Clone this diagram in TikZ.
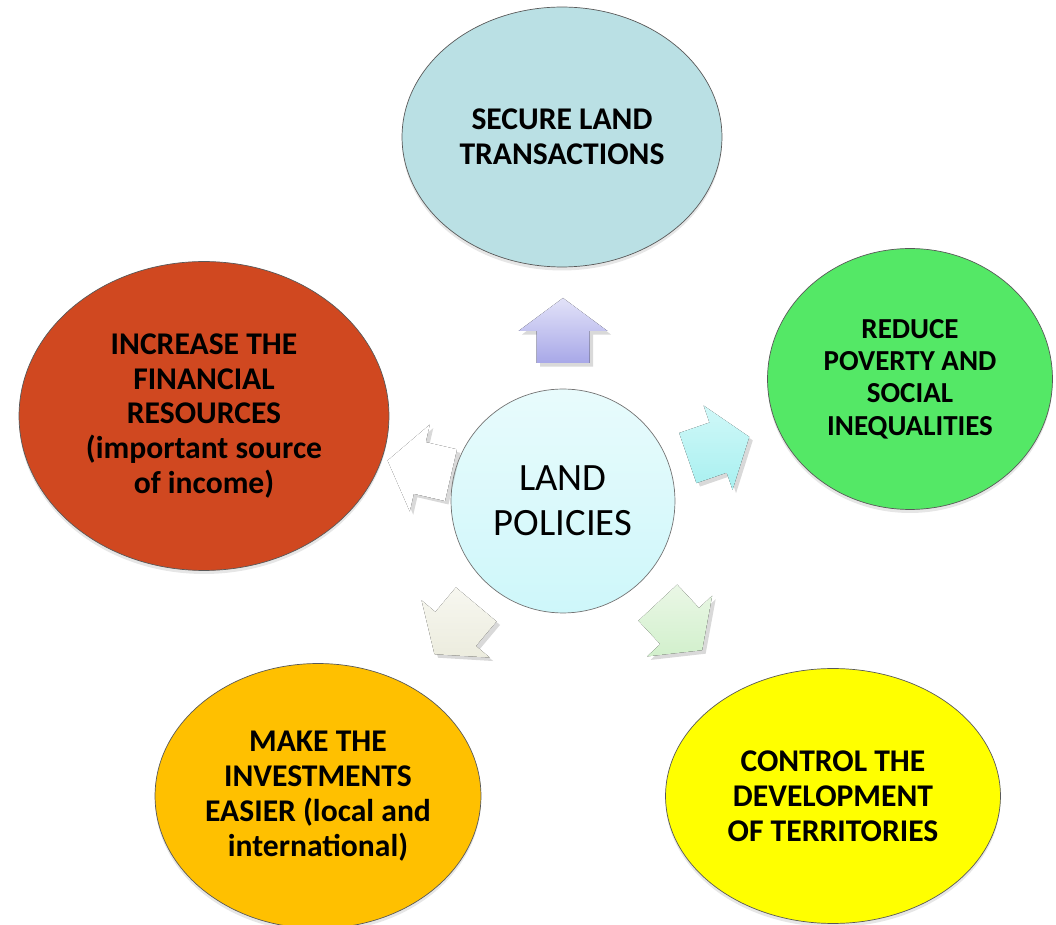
\documentclass[tikz,border=0pt]{standalone}
\usepackage{fontspec}
\setmainfont{Carlito}
\usetikzlibrary{shapes.geometric,shadows,calc}

\definecolor{secureblue}{RGB}{186,224,228}
\definecolor{povgreen}{RGB}{84,232,102}
\definecolor{finred}{RGB}{208,72,32}
\definecolor{investorange}{RGB}{255,192,0}
\definecolor{terryellow}{RGB}{255,255,0}
\definecolor{landtop}{RGB}{232,251,252}
\definecolor{landbot}{RGB}{206,247,250}
\definecolor{upA}{RGB}{226,226,248}
\definecolor{upB}{RGB}{168,168,232}
\definecolor{rtA}{RGB}{208,248,248}
\definecolor{rtB}{RGB}{168,240,240}
\definecolor{brA}{RGB}{234,247,230}
\definecolor{brB}{RGB}{210,240,204}
\definecolor{blA}{RGB}{247,247,240}
\definecolor{blB}{RGB}{236,236,222}

\begin{document}
\begin{tikzpicture}[x=0.02cm,y=-0.02cm,
  goal/.style={ellipse,draw=black!65,thin,inner sep=0pt,align=center,
    drop shadow={opacity=0.2,shadow xshift=0pt,shadow yshift=-2pt},
    font=\bfseries\fontsize{18}{19.9}\selectfont},
  blockarrow/.style={drop shadow={opacity=0.3,shadow xshift=2pt,shadow yshift=-2pt}}]
  \useasboundingbox (0,0) rectangle (1056,925);
\node[circle,draw=black!55,thin,minimum size=4.48cm,inner sep=0pt,
  top color=landtop,bottom color=landbot,align=center,
  font=\fontsize{22}{25.5}\selectfont] (land) at (563,501) {LAND\\POLICIES};
\node[goal,fill=secureblue,minimum width=6.4cm,minimum height=5.2cm] (secure) at (562,137) {SECURE LAND\\TRANSACTIONS};
\node[goal,fill=povgreen,minimum width=5.7cm,minimum height=5.22cm,
  font=\bfseries\fontsize{16.5}{18.4}\selectfont] (poverty) at (910,379) {REDUCE\\POVERTY AND\\SOCIAL\\INEQUALITIES};
\node[goal,fill=finred,minimum width=7.4cm,minimum height=6.18cm] (finance) at (204,416) {INCREASE THE\\FINANCIAL\\RESOURCES\\(important source\\of income)};
\node[goal,fill=investorange,minimum width=6.52cm,minimum height=5.3cm] (invest) at (318,796) {MAKE THE\\INVESTMENTS\\EASIER (local and\\international)};
\node[goal,fill=terryellow,minimum width=6.7cm,minimum height=5.1cm] (territory) at (833,796) {CONTROL THE\\DEVELOPMENT\\OF TERRITORIES};
\foreach \a/\d/\ca/\cb [evaluate=\d as \ra using \d-33, evaluate=\d as \rb using \d-1,
    evaluate=\d as \rc using \d+32] in
    {-90/171/upA/upB, -19/165/rtA/rtB, 47/172/brA/brB, 130/168/blA/blB, -167/148/white/white}
  \fill[blockarrow,top color=\ca,bottom color=\cb]
    ($(land)+(\a:\ra)+(\a+90:26.5)$) -- ($(land)+(\a:\rb)+(\a+90:26.5)$)
    -- ($(land)+(\a:\rb)+(\a+90:44.5)$) -- ($(land)+(\a:\rc)$)
    -- ($(land)+(\a:\rb)+(\a-90:44.5)$) -- ($(land)+(\a:\rb)+(\a-90:26.5)$)
    -- ($(land)+(\a:\ra)+(\a-90:26.5)$) -- cycle;
\end{tikzpicture}
\end{document}
